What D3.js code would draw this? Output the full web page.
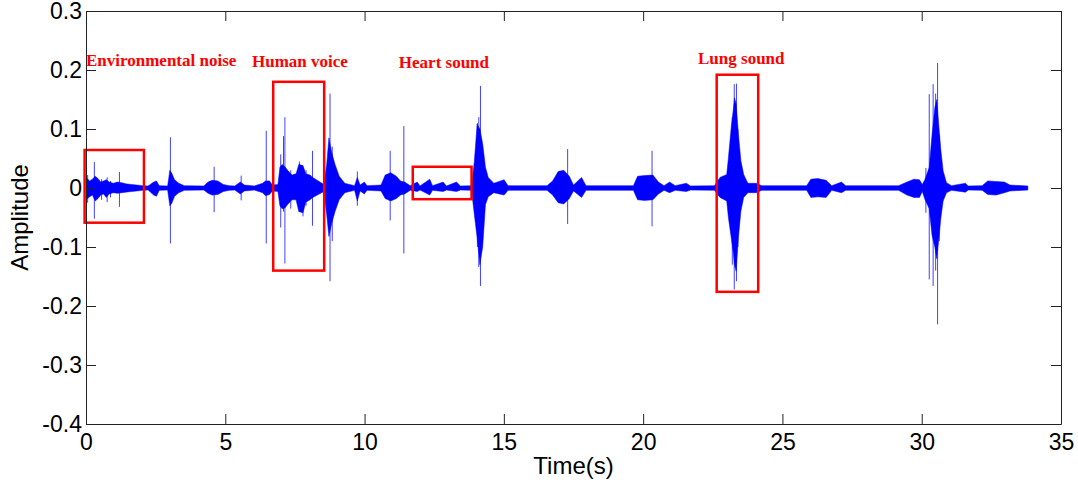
<!DOCTYPE html>
<html>
<head>
<meta charset="utf-8">
<script src="https://cdn.jsdelivr.net/npm/d3@7"></script>
<style>
  body { margin: 0; background: #fff; }
  svg { display: block; }
</style>
</head>
<body>
<svg id="chart" width="1078" height="486"></svg>
<script>
// signal envelope: [time (s), upper, lower]
const envelope = [
  [0.00, 0.018, -0.020], [0.13, 0.012, -0.015], [0.23, 0.015, -0.012], [0.33, 0.020, -0.022],
  [0.43, 0.016, -0.018], [0.53, 0.010, -0.012], [0.63, 0.012, -0.010], [0.73, 0.014, -0.016],
  [0.83, 0.010, -0.010], [0.98, 0.008, -0.008], [1.13, 0.010, -0.009], [1.28, 0.009, -0.008],
  [1.43, 0.007, -0.007], [1.63, 0.006, -0.006], [1.83, 0.005, -0.005], [2.03, 0.004, -0.004],
  [2.23, 0.0035, -0.0035], [2.43, 0.010, -0.012], [2.53, 0.012, -0.014], [2.63, 0.004, -0.004],
  [2.93, 0.0035, -0.0035], [3.01, 0.030, -0.030], [3.08, 0.025, -0.026], [3.18, 0.014, -0.014],
  [3.33, 0.008, -0.008], [3.53, 0.004, -0.004], [4.23, 0.0035, -0.0035], [4.38, 0.010, -0.009],
  [4.53, 0.013, -0.012], [4.73, 0.012, -0.011], [4.93, 0.006, -0.006], [5.14, 0.004, -0.004],
  [5.34, 0.0035, -0.0035], [5.54, 0.010, -0.010], [5.69, 0.005, -0.005], [6.04, 0.0035, -0.0035],
  [6.34, 0.008, -0.008], [6.44, 0.012, -0.013], [6.59, 0.012, -0.011], [6.69, 0.005, -0.005],
  [6.89, 0.006, -0.006], [6.96, 0.035, -0.030], [7.04, 0.040, -0.035], [7.14, 0.036, -0.034],
  [7.24, 0.030, -0.028], [7.39, 0.022, -0.020], [7.54, 0.024, -0.020], [7.64, 0.040, -0.040],
  [7.79, 0.038, -0.042], [7.89, 0.024, -0.024], [8.04, 0.022, -0.020], [8.14, 0.018, -0.016],
  [8.34, 0.012, -0.011], [8.54, 0.006, -0.006], [8.64, 0.040, -0.045], [8.72, 0.085, -0.082],
  [8.82, 0.060, -0.060], [8.94, 0.040, -0.040], [9.09, 0.020, -0.020], [9.29, 0.008, -0.008],
  [9.64, 0.004, -0.004], [9.74, 0.018, -0.022], [9.84, 0.005, -0.005], [9.99, 0.010, -0.010],
  [10.09, 0.004, -0.004], [10.59, 0.005, -0.005], [10.74, 0.022, -0.018], [10.94, 0.026, -0.022],
  [11.14, 0.020, -0.018], [11.29, 0.012, -0.012], [11.44, 0.010, -0.010], [11.64, 0.004, -0.004],
  [11.89, 0.010, -0.006], [11.99, 0.0035, -0.0035], [12.34, 0.015, -0.012], [12.44, 0.004, -0.004],
  [12.82, 0.010, -0.006], [12.94, 0.0035, -0.0035], [13.30, 0.010, -0.006], [13.44, 0.0035, -0.0035],
  [13.84, 0.004, -0.004], [13.94, 0.045, -0.045], [14.04, 0.108, -0.084], [14.14, 0.100, -0.130],
  [14.24, 0.075, -0.100], [14.34, 0.035, -0.028], [14.44, 0.018, -0.015], [14.64, 0.008, -0.008],
  [15.01, 0.014, -0.012], [15.15, 0.004, -0.004], [16.55, 0.004, -0.004], [16.75, 0.012, -0.012],
  [16.95, 0.028, -0.025], [17.15, 0.030, -0.027], [17.35, 0.020, -0.018], [17.50, 0.005, -0.005],
  [17.79, 0.018, -0.016], [17.95, 0.004, -0.004], [19.65, 0.004, -0.004], [19.80, 0.020, -0.020],
  [20.05, 0.021, -0.021], [20.35, 0.022, -0.020], [20.55, 0.010, -0.010], [20.75, 0.004, -0.004],
  [20.95, 0.010, -0.008], [21.15, 0.004, -0.004], [21.55, 0.008, -0.006], [21.70, 0.0035, -0.0035],
  [22.56, 0.004, -0.004], [22.76, 0.018, -0.016], [23.00, 0.023, -0.022], [23.06, 0.051, -0.050],
  [23.16, 0.102, -0.084], [23.23, 0.130, -0.107], [23.28, 0.153, -0.130], [23.34, 0.142, -0.141],
  [23.42, 0.091, -0.084], [23.51, 0.046, -0.039], [23.61, 0.023, -0.016], [23.76, 0.008, -0.008],
  [24.06, 0.008, -0.008], [24.26, 0.004, -0.004], [25.87, 0.004, -0.004], [26.02, 0.015, -0.016],
  [26.27, 0.016, -0.015], [26.57, 0.013, -0.016], [26.77, 0.004, -0.004], [27.12, 0.010, -0.008],
  [27.27, 0.004, -0.004], [29.17, 0.004, -0.004], [29.47, 0.010, -0.012], [29.72, 0.015, -0.016],
  [29.92, 0.014, -0.016], [30.02, 0.006, -0.006], [30.12, 0.015, -0.020], [30.27, 0.035, -0.035],
  [30.37, 0.090, -0.080], [30.47, 0.136, -0.100], [30.54, 0.150, -0.120], [30.62, 0.102, -0.084],
  [30.69, 0.063, -0.050], [30.77, 0.029, -0.022], [30.89, 0.009, -0.008], [31.07, 0.004, -0.004],
  [31.57, 0.008, -0.007], [31.67, 0.0035, -0.0035], [32.17, 0.004, -0.004], [32.37, 0.012, -0.011],
  [32.67, 0.011, -0.012], [32.97, 0.010, -0.008], [33.17, 0.005, -0.005], [33.81, 0.0035, -0.0035]
]

// isolated peaks: [time (s), max, min]
const spikes = [
  [0.06, 0.022, -0.025], [0.30, 0.044, -0.052], [0.56, 0.015, -0.020], [0.76, 0.018, -0.024],
  [0.88, 0.012, -0.016], [1.20, 0.027, -0.032], [3.03, 0.086, -0.094], [4.60, 0.036, -0.041],
  [5.57, 0.021, -0.021], [6.47, 0.097, -0.094], [6.99, 0.057, -0.067], [7.09, 0.088, -0.040],
  [7.14, 0.120, -0.128], [7.35, 0.030, -0.035], [7.66, 0.045, -0.040], [7.79, 0.035, -0.048],
  [7.90, 0.030, -0.030], [8.13, 0.063, -0.064], [8.76, 0.160, -0.158], [8.84, 0.070, -0.090],
  [9.74, 0.028, -0.030], [10.92, 0.063, -0.055], [11.41, 0.105, -0.111], [14.05, 0.110, -0.100],
  [14.10, 0.120, -0.134], [14.16, 0.173, -0.166], [17.29, 0.066, -0.061], [20.32, 0.063, -0.065],
  [23.20, 0.120, -0.130], [23.27, 0.176, -0.172], [23.35, 0.177, -0.158], [23.40, 0.100, -0.100],
  [30.15, 0.034, -0.042], [30.27, 0.159, -0.155], [30.41, 0.176, -0.166], [30.50, 0.160, -0.140],
  [30.57, 0.212, -0.231], [30.63, 0.090, -0.090]
]

// annotation boxes: [label, t0, t1, top, bottom, label t, label amplitude]
const boxes = [
  ['Environmental noise', -0.05, 2.08, 0.0644, -0.0588, 0.0, 0.207],
  ['Human voice', 6.72, 8.55, 0.180, -0.140, 5.96, 0.205],
  ['Heart sound', 11.73, 13.84, 0.036, -0.019, 11.23, 0.203],
  ['Lung sound', 22.64, 24.13, 0.192, -0.176, 21.97, 0.210]
]

const xTicks = [0, 5, 10, 15, 20, 25, 30, 35]
const yTicks = [-0.4, -0.3, -0.2, -0.1, 0, 0.1, 0.2, 0.3]

const svg = d3.select('#chart')
const x = d3.scaleLinear().domain([0, 35]).range([86, 1061])
const y = d3.scaleLinear().domain([-0.4, 0.3]).range([424, 11])

const area = d3.area().x(d => x(d[0])).y0(d => y(d[2])).y1(d => y(d[1]))
svg.append('path').datum(envelope).attr('d', area)
    .style('fill', '#0000ff').style('stroke', '#0000ff').style('stroke-width', 0.5)

svg.selectAll('.spike').data(spikes).enter().append('line')
    .attr('x1', d => x(d[0])).attr('x2', d => x(d[0]))
    .attr('y1', d => y(d[1])).attr('y2', d => y(d[2]))
    .style('stroke', '#0000ff').style('stroke-width', 1).style('stroke-opacity', 0.75)

svg.selectAll('.box').data(boxes).enter().append('rect')
    .attr('x', d => x(d[1])).attr('y', d => y(d[3]))
    .attr('width', d => x(d[2]) - x(d[1])).attr('height', d => y(d[4]) - y(d[3]))
    .style('fill', 'none').style('stroke', '#ff0000').style('stroke-width', 2.5)

svg.selectAll('.label').data(boxes).enter().append('text')
    .attr('x', d => x(d[5])).attr('y', d => y(d[6]))
    .style('font-family', "'Times New Roman', 'Liberation Serif', serif")
    .style('font-weight', 'bold').style('font-size', '17px').style('fill', '#ff0000')
    .text(d => d[0])

// axes, MATLAB style box with inward ticks
const font = "Arial, 'Liberation Sans', sans-serif"
svg.append('g').attr('transform', 'translate(0,424)')
    .call(d3.axisBottom(x).tickValues(xTicks).tickSizeInner(-10).tickSizeOuter(0).tickPadding(10))
svg.append('g').attr('transform', 'translate(86,0)')
    .call(d3.axisLeft(y).tickValues(yTicks).tickFormat(d => d === 0 ? '0' : d.toFixed(1))
        .tickSizeInner(-10).tickSizeOuter(0).tickPadding(4))
svg.append('g').attr('transform', 'translate(0,11)')
    .call(d3.axisTop(x).tickValues(xTicks).tickFormat('').tickSizeInner(-10).tickSizeOuter(0))
svg.append('g').attr('transform', 'translate(1061,0)')
    .call(d3.axisRight(y).tickValues(yTicks).tickFormat('').tickSizeInner(-10).tickSizeOuter(0))

svg.selectAll('.tick text').style('font-family', font).style('font-size', '23px').style('fill', '#000')
svg.selectAll('.domain, .tick line').style('stroke', '#222')

svg.append('text').attr('x', x(17.5)).attr('y', 474).attr('text-anchor', 'middle')
    .style('font-family', font).style('font-size', '24px').text('Time(s)')
svg.append('text').attr('transform', 'translate(28,' + y(-0.05) + ') rotate(-90)').attr('text-anchor', 'middle')
    .style('font-family', font).style('font-size', '24px').text('Amplitude')
</script>
</body>
</html>
